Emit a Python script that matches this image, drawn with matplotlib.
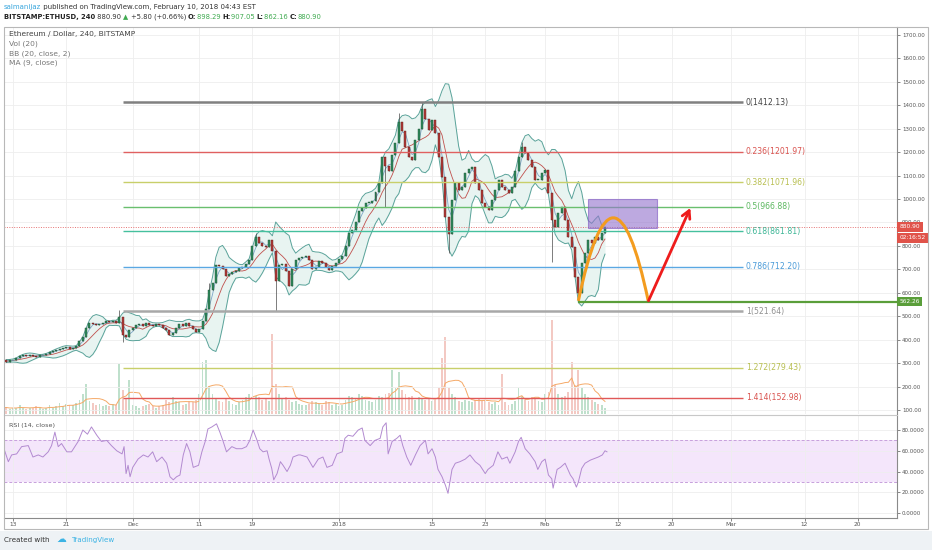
import numpy as np
import pandas as pd
import matplotlib
matplotlib.use("Agg")
import matplotlib.pyplot as plt
import matplotlib.dates as mdates
from matplotlib.patches import Rectangle, PathPatch
from matplotlib.path import Path
from matplotlib.transforms import blended_transform_factory

plt.rcParams['font.family'] = ['DejaVu Sans']

# ---------------- data ----------------
bar_start = "2017-11-11 12:00"     # 12h bars
first_open = 315
closes = [
    312,
    306, 312, 315, 320, 330, 334, 332, 335, 330, 328, 333, 336, 341, 346,   # Nov 12-18
    352, 356, 362, 366, 368, 362, 366, 372, 395, 412, 450, 472,             # Nov 19-24
    468, 464, 466, 472, 478, 474, 480, 470, 495, 420, 412, 440,             # Nov 25-30
    452, 462, 466, 460, 470, 464, 460, 468, 462, 452, 440, 420,             # Dec 1-6
    428, 450, 468, 460, 470, 460, 445, 432, 445, 480, 530, 610,             # Dec 7-12
    640, 720, 715, 700, 670, 680, 690, 695, 705, 712, 725, 740,             # Dec 13-18
    800, 838, 812, 800, 795, 825, 780, 650, 720, 725, 695, 630,             # Dec 19-24
    700, 740, 748, 752, 755, 740, 700, 712, 735, 728, 710, 697,             # Dec 25-30
    715, 727,                                                               # Dec 31
    745, 755, 800, 855, 870, 900, 950, 960, 983, 985, 990, 1030,            # Jan 1-6
    1068, 1180, 1140, 1120, 1190, 1240, 1329, 1290, 1222, 1180, 1167, 1252, # Jan 7-12
    1300, 1385, 1340, 1295, 1337, 1282, 1180, 1094, 923, 850, 996, 1070,    # Jan 13-18
    1039, 1051, 1110, 1130, 1137, 1068, 1039, 983, 965, 953, 996, 1039,     # Jan 19-24
    1081, 1051, 1040, 1026, 1051, 1120, 1180, 1222, 1196, 1167, 1137, 1081, # Jan 25-30
    1081, 1111,                                                             # Jan 31
    1124, 1026, 911, 881, 940, 966, 911, 838, 795, 667, 600, 727,           # Feb 1-6
    770, 825, 812, 838, 825, 855,                                           # Feb 7-9
    880.90,                                                                 # Feb 10
]
volumes = [
    6,
    7, 5, 6, 6, 9, 6, 5, 6, 6, 8, 6, 5, 6, 9,          # Nov 12-18
    6, 8, 11, 8, 10, 9, 9, 11, 14, 20, 30, 13,         # Nov 19-24
    11, 9, 10, 8, 9, 8, 10, 9, 50, 24, 16, 34,         # Nov 25-30
    9, 8, 6, 8, 9, 10, 8, 6, 8, 9, 14, 12,             # Dec 1-6
    17, 13, 12, 9, 10, 13, 12, 14, 20, 52, 54, 28,     # Dec 7-12
    20, 16, 13, 12, 16, 13, 10, 9, 12, 14, 17, 20,     # Dec 13-18
    37, 18, 17, 14, 16, 13, 80, 30, 20, 16, 17, 14,    # Dec 19-24
    12, 13, 10, 9, 9, 10, 13, 12, 10, 9, 13, 12,       # Dec 25-30
    9, 10,                                             # Dec 31
    8, 9, 14, 18, 17, 16, 20, 18, 14, 13, 12, 14,      # Jan 1-6
    18, 17, 20, 21, 44, 26, 42, 24, 20, 17, 18, 14,    # Jan 7-12
    17, 16, 14, 16, 13, 14, 26, 56, 77, 26, 20, 17,    # Jan 13-18
    13, 12, 14, 13, 12, 14, 16, 13, 14, 12, 10, 12,    # Jan 19-24
    9, 40, 12, 9, 10, 13, 26, 18, 14, 13, 17, 16,      # Jan 25-30
    13, 12,                                            # Jan 31
    20, 22, 94, 29, 20, 17, 18, 22, 52, 29, 44, 26,    # Feb 1-6
    20, 17, 14, 12, 10, 9,                             # Feb 7-9
    6,                                                 # Feb 10
]
wick_high = {"2017-11-29 00:00": 525, "2017-12-12 12:00": 640, "2017-12-19 12:00": 855,
             "2018-01-10 00:00": 1365, "2018-01-13 12:00": 1412.13, "2018-01-28 12:00": 1245}
wick_low = {"2017-11-29 12:00": 390, "2017-12-22 12:00": 521.64, "2018-01-08 00:00": 966,
            "2018-01-17 12:00": 770, "2018-02-02 00:00": 731, "2018-02-06 00:00": 562.26}

# RSI line: days after 2017-11-13 and value
rsi_days = [
    -1.35, -0.7, -0.2, 0.55, 1.3, 2.3, 3.0, 3.8, 4.5, 5.3,
    5.8, 6.3, 6.8, 7.3, 8.1, 8.8, 9.8, 10.5, 11.2, 11.8,
    12.6, 13.3, 14.1, 14.8, 15.6, 16.4, 16.7, 17.0, 17.3, 17.6,
    18.0, 18.8, 19.6, 20.3, 21.0, 21.6, 22.4, 23.1, 23.6, 24.1,
    24.6, 25.1, 25.6, 26.1, 26.6, 27.1, 27.9, 28.4, 28.9, 29.3,
    29.9, 30.6, 31.1, 31.6, 32.1, 32.9, 33.6, 34.4, 35.1, 35.6,
    36.1, 36.7, 37.1, 37.6, 38.2, 38.5, 38.9, 39.2, 39.7, 40.2,
    40.6, 41.2, 41.7, 42.1, 42.9,
    43.2, 44.2, 45.1, 45.9, 46.6, 47.2, 48.0, 48.7, 49.5, 49.9,
    50.4, 51.1, 51.9, 52.5, 52.9, 53.7, 54.4, 55.2, 55.6, 56.1,
    56.4, 57.0, 57.7, 58.2, 58.6, 59.2, 59.8, 60.5, 61.2, 62.0,
    62.4, 63.0, 63.5, 63.9, 64.5, 65.0, 65.4, 66.0, 66.5, 67.2,
    68.0, 68.7, 69.5, 70.2, 71.0, 71.4, 72.2, 72.9, 73.5, 74.3,
    74.7, 75.5, 76.0, 76.4, 77.0, 77.7, 78.5, 78.9, 79.5, 80.0,
    80.5, 81.0, 81.2, 81.8, 82.3, 83.0, 83.8, 84.2, 84.7, 85.0,
    85.5, 86.0, 86.8, 87.2, 88.0, 88.6, 89.0, 89.3,
]
rsi_values = [
    62, 49.5, 56, 57, 64, 65, 54, 56, 54, 59,
    65, 78, 64, 67, 59, 59, 69, 80, 76, 83,
    75, 69, 70, 65, 60, 57, 64, 38, 46, 35,
    44, 52, 56, 54, 59, 49.5, 54, 48, 35, 32,
    35, 36.6, 56, 67, 59, 44, 46, 59, 69, 81,
    83, 86, 78, 69, 59, 64, 62, 62, 64, 70,
    80, 70, 62, 59, 60, 52, 43, 32, 38, 49.5,
    46, 40, 46, 54, 56,
    56, 54, 44, 52, 54, 44, 46, 57, 59, 72,
    75, 74, 80, 82, 70, 65, 70, 72, 83, 87,
    57, 69, 72, 75, 65, 54, 46, 56, 65, 70,
    57, 62, 54, 42, 35, 27, 19, 42, 48, 49.5,
    52, 56, 49.5, 46, 38, 42, 46, 59, 52, 54,
    48, 59, 69, 73, 62, 57, 49.5, 42, 49.5, 52,
    36.6, 33, 24, 42, 44, 48, 36.6, 33, 25, 30,
    43, 48, 51, 52, 54, 56, 60, 59,
]

fib_ratios = ["0", "0.236", "0.382", "0.5", "0.618", "0.786", "1", "1.272", "1.414"]
fib_prices = [1412.13, 1201.97, 1071.96, 966.88, 861.81, 712.20, 521.64, 279.43, 152.98]
fib_start = "2017-11-29 12:00"
fib_end = "2018-03-02 17:00"

last_price = 880.90
countdown = "02:16:52"
support_price = 562.26
support_start = "2018-02-06 00:00"
box_dates = ["2018-02-07 10:00", "2018-02-17 18:00"]
box_prices = [877, 1000]
arc_dates = ["2018-02-06 00:00", "2018-02-11 06:00", "2018-02-16 12:00"]
arc_prices = [566, 1274, 566]
arrow_dates = ["2018-02-16 13:00", "2018-02-22 20:00"]
arrow_prices = [566, 962]

price_ticks = list(range(100, 1800, 100))
rsi_ticks = [0, 20, 40, 60, 80]
date_ticks = ["2017-11-13", "2017-11-21", "2017-12-01", "2017-12-11", "2017-12-19",
              "2018-01-01", "2018-01-15", "2018-01-23", "2018-02-01", "2018-02-12",
              "2018-02-20", "2018-03-01", "2018-03-12", "2018-03-20"]
date_labels = ["13", "21", "Dec", "11", "19", "2018", "15", "23", "Feb", "12", "20", "Mar", "12", "20"]

# ---------------- styles ----------------
fib_colors = ["#808080", "#e06060", "#c8cf6a", "#6abf6e", "#45c09e", "#5aa8e2", "#a8a8a8", "#c8cf6a", "#e05858"]
fib_text_colors = ["#444444", "#d9534f", "#b8bf50", "#5cb860", "#3cb595", "#4a9bd8", "#909090", "#b8bf50", "#d9534f"]
fib_lw = [1.8, 1.0, 1.0, 1.0, 1.0, 1.0, 1.8, 1.0, 1.0]

W, H = 932, 550
fig = plt.figure(figsize=(W / 100, H / 100), dpi=100)
fig.patch.set_facecolor("white")


def rect_px(x0, y0, x1, y1):
    return [x0 / W, 1 - y1 / H, (x1 - x0) / W, (y1 - y0) / H]


fig.patches.append(Rectangle((0, 0), 1, 19 / H, transform=fig.transFigure,
                             facecolor="#eef2f5", edgecolor="none", zorder=0))

axv = fig.add_axes(rect_px(4, 27, 897, 414))
ax = fig.add_axes(rect_px(4, 27, 897, 414), sharex=axv)
axr = fig.add_axes(rect_px(4, 415, 897, 518), sharex=axv)

times = pd.date_range(bar_start, periods=len(closes), freq="12h")
x = mdates.date2num(times)
c = np.array(closes, dtype=float)
o = np.r_[first_open, c[:-1]]
hi = np.maximum(o, c)
lo = np.minimum(o, c)
tidx = {t.strftime("%Y-%m-%d %H:%M"): i for i, t in enumerate(times)}
for k, v in wick_high.items():
    hi[tidx[k]] = max(hi[tidx[k]], v)
for k, v in wick_low.items():
    lo[tidx[k]] = min(lo[tidx[k]], v)

d0 = mdates.date2num(pd.Timestamp("2017-11-13"))
xlim = (d0 - 1.35, d0 + 132.9)
ax.set_xlim(*xlim)

# ---- volume (overlay) ----
vol = np.array(volumes, dtype=float)
upmask = c >= o
axv.set_ylim(0, 387)
axv.axis("off")
axv.bar(x[upmask], vol[upmask], width=0.28, color="#bfe0cc", linewidth=0)
axv.bar(x[~upmask], vol[~upmask], width=0.28, color="#f3c9c3", linewidth=0)
vma = pd.Series(vol).rolling(7, min_periods=1).mean()
axv.plot(x, vma, color="#f5a967", lw=0.7)
axv.set_zorder(1)
ax.set_zorder(2)
ax.patch.set_visible(False)

# ---- price panel ----
ax.set_ylim(83, 1734)
ax.set_yticks(price_ticks)
ax.set_yticklabels([f"{v:.2f}" for v in price_ticks])
ax.yaxis.tick_right()
ax.tick_params(axis="y", labelsize=4.0, colors="#555555", length=2, width=0.5, pad=1.5)
ax.tick_params(axis="x", bottom=False, labelbottom=False)
ax.grid(True, color="#eeeeee", lw=0.6)
ax.set_axisbelow(True)
ax.set_xticks(mdates.date2num(pd.to_datetime(date_ticks)))
for sp in ["top", "left", "bottom"]:
    ax.spines[sp].set_visible(False)
ax.spines["right"].set_color("#8a8a8a")
ax.spines["right"].set_linewidth(0.8)

# Bollinger bands and MA
s = pd.Series(c)
mid = s.rolling(7, min_periods=2).mean()
sd = s.rolling(7, min_periods=2).std(ddof=0)
bb_up = mid + 2 * sd
bb_lo = mid - 2 * sd
ax.fill_between(x, bb_lo, bb_up, color="#e8f4f1", lw=0, zorder=1)
ax.plot(x, bb_up, color="#5aa39a", lw=0.7, zorder=2)
ax.plot(x, bb_lo, color="#5aa39a", lw=0.7, zorder=2)
ax.plot(x, mid, color="#c0504d", lw=0.6, zorder=2)
ma9 = s.rolling(3, min_periods=1).mean()
ax.plot(x, ma9, color="#7ea7c8", lw=0.6, zorder=2)

# candles
ax.vlines(x, lo, hi, color="#4a4a4a", lw=0.5, zorder=3)
body = np.maximum(np.abs(c - o), 2.5)
ax.bar(x[upmask], body[upmask], bottom=np.minimum(o, c)[upmask], width=0.3,
       color="#2f8a5c", edgecolor="#1d4d34", linewidth=0.3, zorder=4)
ax.bar(x[~upmask], body[~upmask], bottom=np.minimum(o, c)[~upmask], width=0.3,
       color="#b33b3b", edgecolor="#5b1a13", linewidth=0.3, zorder=4)

ax.axhline(last_price, color="#e57373", ls=(0, (1, 1.5)), lw=0.7, zorder=3)

# Fibonacci
fs, fe = mdates.date2num(pd.Timestamp(fib_start)), mdates.date2num(pd.Timestamp(fib_end))
for r, p, col, tcol, lw in zip(fib_ratios, fib_prices, fib_colors, fib_text_colors, fib_lw):
    ax.hlines(p, fs, fe, color=col, lw=lw, zorder=5)
    ax.text(fe + 0.45, p, f"{r}({p:.2f})", color=tcol, fontsize=5.6, va="center", ha="left", zorder=6)

ax.hlines(support_price, mdates.date2num(pd.Timestamp(support_start)), xlim[1],
          color="#5a9e3a", lw=1.6, zorder=5)

bx = mdates.date2num(pd.to_datetime(box_dates))
ax.add_patch(Rectangle((bx[0], box_prices[0]), bx[1] - bx[0], box_prices[1] - box_prices[0],
                       facecolor="#9575cd", alpha=0.62, edgecolor="#7e57c2", lw=0.8, zorder=6))

ad = mdates.date2num(pd.to_datetime(arc_dates))
arc = Path(list(zip(ad, arc_prices)), [Path.MOVETO, Path.CURVE3, Path.CURVE3])
ax.add_patch(PathPatch(arc, facecolor="none", edgecolor="#f39c1f", lw=2.2, zorder=7))

rd = mdates.date2num(pd.to_datetime(arrow_dates))
ax.annotate("", xy=(rd[1], arrow_prices[1]), xytext=(rd[0], arrow_prices[0]),
            arrowprops=dict(arrowstyle="->,head_length=0.55,head_width=0.3",
                            color="#ee1c1c", lw=2.0, shrinkA=0, shrinkB=0), zorder=7)

trans = blended_transform_factory(ax.transAxes, ax.transData)
lbl = dict(fontsize=4.2, color="white", va="center", ha="left", zorder=10)
ax.text(1.003, last_price, f"{last_price:.2f}", transform=trans,
        bbox=dict(boxstyle="square,pad=0.4", fc="#e0534a", ec="none"), **lbl)
ax.annotate(countdown, xy=(1.003, last_price), xycoords=trans, xytext=(0, -7.8), textcoords="offset points",
            bbox=dict(boxstyle="square,pad=0.4", fc="#e0534a", ec="none"), **lbl)
ax.text(1.003, support_price, f"{support_price:.2f}", transform=trans,
        bbox=dict(boxstyle="square,pad=0.4", fc="#5a9e3a", ec="none"), **lbl)

# ---- RSI panel ----
axr.set_ylim(-4.8, 94.5)
axr.axhspan(30, 70, color="#f4e6fb", lw=0, zorder=0)
axr.axhline(70, color="#c7a0dc", ls=(0, (3, 2)), lw=0.7)
axr.axhline(30, color="#c7a0dc", ls=(0, (3, 2)), lw=0.7)
axr.plot(d0 + np.array(rsi_days), rsi_values, color="#b28ad0", lw=0.7)
axr.set_yticks(rsi_ticks)
axr.set_yticklabels([f"{v:.4f}" for v in rsi_ticks])
axr.yaxis.tick_right()
axr.tick_params(axis="y", labelsize=4.0, colors="#555555", length=2, width=0.5, pad=1.5)
axr.set_xticks(mdates.date2num(pd.to_datetime(date_ticks)))
axr.set_xticklabels(date_labels)
axr.tick_params(axis="x", labelsize=4.2, colors="#555555", length=2, width=0.5, pad=1.2)
axr.grid(True, color="#eeeeee", lw=0.6)
axr.set_axisbelow(True)
axr.spines["top"].set_color("#c8c8c8")
axr.spines["top"].set_linewidth(0.8)
axr.spines["left"].set_visible(False)
axr.spines["right"].set_color("#8a8a8a")
axr.spines["right"].set_linewidth(0.8)
axr.spines["bottom"].set_color("#8a8a8a")
axr.spines["bottom"].set_linewidth(0.8)
axr.text(0.006, 0.9, "RSI (14, close)", transform=axr.transAxes, fontsize=4.6, color="#555555",
         va="center", ha="left")

fig.patches.append(Rectangle((4 / W, 1 - 529 / H), 924 / W, 502 / H, transform=fig.transFigure,
                             fill=False, edgecolor="#b8b8b8", lw=0.8, zorder=20))

# ---- texts ----
fig.canvas.draw()
R = fig.canvas.get_renderer()


def run(xp, yp, parts, size, draw=True):
    for txt, col, wt in parts:
        t = fig.text(xp / W, 1 - yp / H, txt, fontsize=size, color=col, fontweight=wt,
                     va="center", ha="left")
        w = t.get_window_extent(R).width
        if not draw:
            t.remove()
        xp += w
    return xp


def fit_run(xp, yp, parts, target):
    wdt = run(0, -50, parts, 10, draw=False)
    size = 10 * target / wdt
    run(xp, yp, parts, size)
    return size


green = "#3faa50"
line1 = [("salmanijaz", "#38a6dd", "normal"),
         (" published on TradingView.com, February 10, 2018 04:43 EST", "#333333", "normal")]
fit_run(4, 7, line1, 252)
line2 = [("BITSTAMP:ETHUSD, 240", "#222222", "bold"), (" 880.90 ", "#333333", "normal"),
         ("▲", green, "normal"), (" +5.80 (+0.66%) ", "#333333", "normal"),
         ("O:", "#222222", "bold"), ("898.29 ", green, "normal"),
         ("H:", "#222222", "bold"), ("907.05 ", green, "normal"),
         ("L:", "#222222", "bold"), ("862.16 ", green, "normal"),
         ("C:", "#222222", "bold"), ("880.90", green, "normal")]
fit_run(4, 17, line2, 318)

lsz = fit_run(9, 34, [("Ethereum / Dollar, 240, BITSTAMP", "#444444", "normal")], 126)
run(9, 44, [("Vol (20)", "#777777", "normal")], lsz)
run(9, 53.5, [("BB (20, close, 2)", "#777777", "normal")], lsz)
run(9, 63, [("MA (9, close)", "#777777", "normal")], lsz)

run(4, 540, [("Created with", "#333333", "normal")], lsz * 0.95)
run(56, 539, [("☁", "#3bb3e4", "normal")], lsz * 1.3)
run(72, 540, [("TradingView", "#3bb3e4", "normal")], lsz * 0.95)

fig.savefig("out.png", dpi=100, facecolor=fig.get_facecolor())
